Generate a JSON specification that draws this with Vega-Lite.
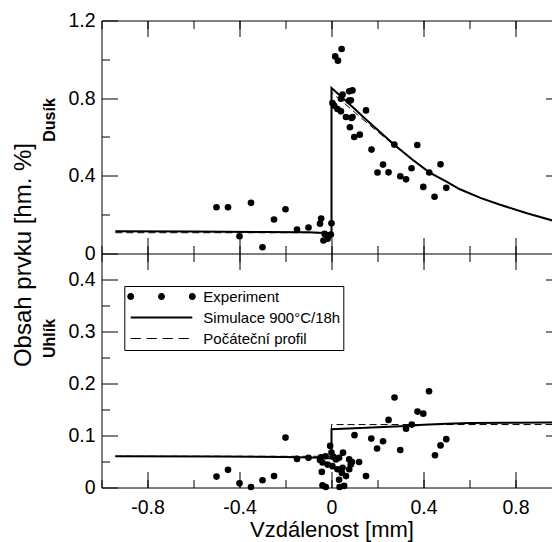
{
  "$schema": "https://vega.github.io/schema/vega-lite/v6.json",
  "width": 460,
  "height": 467,
  "autosize": {"type": "none"},
  "padding": {"left": 101.5, "top": 20.5, "right": 0, "bottom": 54},
  "config": {
    "font": "Liberation Sans",
    "view": {"stroke": null},
    "axis": {
      "grid": false,
      "domainColor": "black",
      "tickColor": "black",
      "labelColor": "black",
      "titleColor": "black",
      "labelFontSize": 19.5
    }
  },
  "datasets": {
    "N": [
      {"x": -0.50, "y": 0.238}, {"x": -0.45, "y": 0.238}, {"x": -0.40, "y": 0.089},
      {"x": -0.35, "y": 0.261}, {"x": -0.30, "y": 0.032}, {"x": -0.25, "y": 0.175},
      {"x": -0.20, "y": 0.228}, {"x": -0.15, "y": 0.123}, {"x": -0.10, "y": 0.134},
      {"x": -0.05, "y": 0.153}, {"x": -0.045, "y": 0.18}, {"x": -0.035, "y": 0.067},
      {"x": -0.03, "y": 0.101}, {"x": -0.017, "y": 0.076}, {"x": -0.01, "y": 0.093},
      {"x": -0.003, "y": 0.098}, {"x": 0.0, "y": 0.156}, {"x": 0.004, "y": 0.775},
      {"x": 0.012, "y": 0.761}, {"x": 0.016, "y": 1.015}, {"x": 0.026, "y": 0.744},
      {"x": 0.028, "y": 0.993}, {"x": 0.041, "y": 0.797}, {"x": 0.041, "y": 0.732},
      {"x": 0.044, "y": 1.053}, {"x": 0.048, "y": 0.818}, {"x": 0.063, "y": 0.703},
      {"x": 0.077, "y": 0.835}, {"x": 0.077, "y": 0.787}, {"x": 0.08, "y": 0.65},
      {"x": 0.084, "y": 0.789}, {"x": 0.087, "y": 0.698}, {"x": 0.091, "y": 0.84},
      {"x": 0.091, "y": 0.703}, {"x": 0.099, "y": 0.60}, {"x": 0.123, "y": 0.612},
      {"x": 0.15, "y": 0.737}, {"x": 0.174, "y": 0.535}, {"x": 0.20, "y": 0.417},
      {"x": 0.224, "y": 0.458}, {"x": 0.248, "y": 0.418}, {"x": 0.273, "y": 0.561},
      {"x": 0.299, "y": 0.398}, {"x": 0.324, "y": 0.382}, {"x": 0.348, "y": 0.439},
      {"x": 0.373, "y": 0.559}, {"x": 0.399, "y": 0.343}, {"x": 0.425, "y": 0.417},
      {"x": 0.448, "y": 0.292}, {"x": 0.474, "y": 0.459}, {"x": 0.499, "y": 0.338}
    ],
    "Nsim": [
      {"i": 1, "x": -0.94, "y": 0.115}, {"i": 2, "x": -0.6, "y": 0.113},
      {"i": 3, "x": -0.3, "y": 0.111}, {"i": 4, "x": -0.1, "y": 0.109},
      {"i": 5, "x": -0.03, "y": 0.106}, {"i": 6, "x": 0.0, "y": 0.102},
      {"i": 7, "x": 0.0, "y": 0.852}, {"i": 8, "x": 0.05, "y": 0.80},
      {"i": 9, "x": 0.1, "y": 0.745}, {"i": 10, "x": 0.15, "y": 0.69},
      {"i": 11, "x": 0.2, "y": 0.637}, {"i": 12, "x": 0.273, "y": 0.56},
      {"i": 13, "x": 0.35, "y": 0.485}, {"i": 14, "x": 0.425, "y": 0.418},
      {"i": 15, "x": 0.5, "y": 0.37}, {"i": 16, "x": 0.556, "y": 0.332},
      {"i": 17, "x": 0.65, "y": 0.285}, {"i": 18, "x": 0.73, "y": 0.252},
      {"i": 19, "x": 0.85, "y": 0.207}, {"i": 20, "x": 0.96, "y": 0.17}
    ],
    "Ninit": [
      {"i": 1, "x": -0.94, "y": 0.107}, {"i": 2, "x": 0.0, "y": 0.107},
      {"i": 3, "x": 0.0, "y": 0.83}, {"i": 4, "x": 0.05, "y": 0.78},
      {"i": 5, "x": 0.1, "y": 0.728}, {"i": 6, "x": 0.15, "y": 0.677},
      {"i": 7, "x": 0.2, "y": 0.628}, {"i": 8, "x": 0.273, "y": 0.556},
      {"i": 9, "x": 0.35, "y": 0.485}, {"i": 10, "x": 0.425, "y": 0.418},
      {"i": 11, "x": 0.5, "y": 0.37}, {"i": 12, "x": 0.556, "y": 0.332},
      {"i": 13, "x": 0.65, "y": 0.285}, {"i": 14, "x": 0.73, "y": 0.252},
      {"i": 15, "x": 0.85, "y": 0.207}, {"i": 16, "x": 0.96, "y": 0.17}
    ],
    "C": [
      {"x": -0.50, "y": 0.021}, {"x": -0.45, "y": 0.034}, {"x": -0.40, "y": 0.008},
      {"x": -0.35, "y": 0.001}, {"x": -0.30, "y": 0.014}, {"x": -0.25, "y": 0.022},
      {"x": -0.20, "y": 0.096}, {"x": -0.15, "y": 0.055}, {"x": -0.10, "y": 0.057},
      {"x": -0.05, "y": 0.053}, {"x": -0.046, "y": 0.058}, {"x": -0.042, "y": 0.030},
      {"x": -0.039, "y": 0.048}, {"x": -0.039, "y": 0.004}, {"x": -0.026, "y": 0.060},
      {"x": -0.025, "y": 0.001}, {"x": -0.017, "y": 0.044}, {"x": -0.006, "y": 0.080},
      {"x": 0.0, "y": 0.067}, {"x": 0.004, "y": 0.041}, {"x": 0.009, "y": 0.059},
      {"x": 0.019, "y": 0.054}, {"x": 0.026, "y": 0.035}, {"x": 0.033, "y": 0.057},
      {"x": 0.033, "y": 0.015}, {"x": 0.035, "y": 0.001}, {"x": 0.045, "y": 0.028},
      {"x": 0.048, "y": 0.038}, {"x": 0.05, "y": 0.067}, {"x": 0.055, "y": 0.003},
      {"x": 0.063, "y": 0.022}, {"x": 0.077, "y": 0.035}, {"x": 0.077, "y": 0.054},
      {"x": 0.084, "y": 0.044}, {"x": 0.089, "y": 0.049}, {"x": 0.1, "y": 0.1007},
      {"x": 0.12, "y": 0.049}, {"x": 0.15, "y": 0.022}, {"x": 0.173, "y": 0.094},
      {"x": 0.198, "y": 0.075}, {"x": 0.224, "y": 0.089}, {"x": 0.248, "y": 0.130},
      {"x": 0.274, "y": 0.173}, {"x": 0.299, "y": 0.072}, {"x": 0.324, "y": 0.113},
      {"x": 0.349, "y": 0.121}, {"x": 0.374, "y": 0.146}, {"x": 0.399, "y": 0.142},
      {"x": 0.424, "y": 0.185}, {"x": 0.45, "y": 0.062}, {"x": 0.474, "y": 0.081},
      {"x": 0.499, "y": 0.093}
    ],
    "Csim": [
      {"i": 1, "x": -0.94, "y": 0.060}, {"i": 2, "x": -0.5, "y": 0.0595},
      {"i": 3, "x": -0.2, "y": 0.0585}, {"i": 4, "x": -0.05, "y": 0.057},
      {"i": 5, "x": 0.0, "y": 0.056}, {"i": 6, "x": 0.0, "y": 0.112},
      {"i": 7, "x": 0.1, "y": 0.114}, {"i": 8, "x": 0.2, "y": 0.116},
      {"i": 9, "x": 0.3, "y": 0.118}, {"i": 10, "x": 0.4, "y": 0.1205},
      {"i": 11, "x": 0.5, "y": 0.1225}, {"i": 12, "x": 0.6, "y": 0.1238},
      {"i": 13, "x": 0.8, "y": 0.1245}, {"i": 14, "x": 0.96, "y": 0.125}
    ],
    "Cinit": [
      {"i": 1, "x": -0.94, "y": 0.060}, {"i": 2, "x": 0.0, "y": 0.060},
      {"i": 3, "x": 0.0, "y": 0.121}, {"i": 4, "x": 0.96, "y": 0.121}
    ]
  },
  "resolve": {"scale": {"y": "independent"}, "axis": {"x": "independent", "y": "independent"}},
  "layer": [
    {
      "data": {"name": "N"},
      "mark": {"type": "point", "filled": true, "size": 44, "opacity": 1},
      "encoding": {
        "x": {"field": "x", "type": "quantitative",
          "scale": {"domain": [-1, 1], "nice": false, "zero": false},
          "axis": {"orient": "bottom", "offset": -467, "values": [-0.8, -0.4, 0, 0.4, 0.8],
            "tickSize": 16, "labels": false, "domain": true, "title": null}},
        "y": {"field": "y", "type": "quantitative",
          "scale": {"domain": [-1.2052, 1.2], "nice": false, "zero": false},
          "axis": {"orient": "left", "values": [0, 0.4, 0.8, 1.2], "ticks": false,
            "labelExpr": "'' + datum.value", "labelPadding": 6.5,
            "title": "Dusík", "titleFontWeight": "bold", "titleFontSize": 16,
            "titleAngle": -90, "titleAlign": "center", "titleBaseline": "middle",
            "titleX": -52.5, "titleY": 99}},
        "color": {"datum": "Experiment", "type": "nominal",
          "scale": {"domain": ["Experiment", "Simulace 900°C/18h", "Počáteční profil"], "range": ["black", "black", "black"]},
          "legend": {
            "orient": "none", "legendX": 22.8, "legendY": 265.5, "title": null,
            "padding": 3, "strokeColor": "black", "fillColor": "white",
            "labelFontSize": 15, "labelFont": "Liberation Sans", "labelColor": "black",
            "symbolSize": 49, "symbolStrokeWidth": 0, "symbolOffset": 26.7,
            "symbolFillColor": "black", "symbolStrokeColor": "transparent", "symbolOpacity": 1,
            "symbolType": {"expr": "datum.value === 'Experiment' ? 'M-7.8,0A1,1,0,1,1,-9.8,0A1,1,0,1,1,-7.8,0ZM1,0A1,1,0,1,1,-1,0A1,1,0,1,1,1,0ZM9.8,0A1,1,0,1,1,7.8,0A1,1,0,1,1,9.8,0Z' : datum.value === 'Počáteční profil' ? 'M-8.8,-0.16H-5.94V0.16H-8.8ZM-4.23,-0.16H-1.37V0.16H-4.23ZM0.34,-0.16H3.2V0.16H0.34ZM4.91,-0.16H7.77V0.16H4.91Z' : 'M-8.8,-0.29H8.8V0.29H-8.8Z'"},
            "labelOffset": 34.3, "rowPadding": 5, "labelLimit": 0
          }}
      }
    },
    {
      "data": {"name": "Nsim"},
      "mark": {"type": "line", "strokeWidth": 2},
      "encoding": {
        "x": {"field": "x", "type": "quantitative",
          "scale": {"domain": [-1, 1], "nice": false, "zero": false},
          "axis": {"orient": "bottom", "offset": -467, "tickCount": 10,
            "tickSize": 8, "labels": false, "domain": false, "title": null}},
        "y": {"field": "y", "type": "quantitative",
          "scale": {"domain": [-1.2052, 1.2], "nice": false, "zero": false},
          "axis": {"orient": "right", "offset": -460, "values": [0, 0.4, 0.8, 1.2],
            "tickSize": 16, "labels": false, "domain": false, "title": null}},
        "order": {"field": "i"},
        "color": {"datum": "Simulace 900°C/18h", "type": "nominal"}
      }
    },
    {
      "data": {"name": "Ninit"},
      "mark": {"type": "line", "strokeWidth": 1, "strokeDash": [7, 4]},
      "encoding": {
        "x": {"field": "x", "type": "quantitative",
          "scale": {"domain": [-1, 1], "nice": false, "zero": false},
          "axis": {"orient": "bottom", "offset": -250, "values": [-0.8, -0.4, 0, 0.4, 0.8],
            "tickSize": 32, "labels": false, "domain": false, "title": null}},
        "y": {"field": "y", "type": "quantitative",
          "scale": {"domain": [-1.2052, 1.2], "nice": false, "zero": false},
          "axis": {"orient": "right", "offset": -460, "values": [0.2, 0.6, 1.0],
            "tickSize": 8, "labels": false, "domain": false, "title": null}},
        "order": {"field": "i"},
        "color": {"datum": "Počáteční profil", "type": "nominal"}
      }
    },
    {
      "mark": {"type": "text", "text": "T25+N", "fontSize": 23, "align": "left", "baseline": "alphabetic", "color": "black"},
      "encoding": {
        "x": {"datum": -0.844, "type": "quantitative",
          "scale": {"domain": [-1, 1], "nice": false, "zero": false},
          "axis": {"orient": "bottom", "offset": -242, "tickCount": 10,
            "tickSize": 16, "labels": false, "domain": false, "title": null}},
        "y": {"datum": 0.926, "type": "quantitative",
          "scale": {"domain": [-1.2052, 1.2], "nice": false, "zero": false},
          "axis": {"orient": "left", "offset": -460, "values": [0.4, 0.8],
            "tickSize": 16, "labels": false, "domain": false,
            "title": "Obsah prvku [hm. %]", "titleFontSize": 24, "titleFontWeight": "normal",
            "titleAngle": -90, "titleAlign": "center", "titleBaseline": "middle",
            "titleX": -538, "titleY": 234}}
      }
    },
    {
      "mark": {"type": "text", "text": "P91+N", "fontSize": 23, "align": "left", "baseline": "alphabetic", "color": "black"},
      "encoding": {
        "x": {"datum": 0.563, "type": "quantitative",
          "scale": {"domain": [-1, 1], "nice": false, "zero": false},
          "axis": {"orient": "bottom", "offset": -234, "ticks": false,
            "labels": false, "domain": true, "title": null}},
        "y": {"datum": 0.797, "type": "quantitative",
          "scale": {"domain": [0, 0.898], "nice": false, "zero": false},
          "axis": {"orient": "left", "offset": -460, "values": [0.1, 0.2, 0.3, 0.4],
            "tickSize": 16, "labels": false, "domain": false, "title": null}}
      }
    },
    {
      "data": {"name": "C"},
      "mark": {"type": "point", "filled": true, "size": 44, "opacity": 1, "color": "black"},
      "encoding": {
        "x": {"field": "x", "type": "quantitative",
          "scale": {"domain": [-1, 1], "nice": false, "zero": false},
          "axis": {"orient": "bottom", "values": [-0.8, -0.4, 0, 0.4, 0.8], "ticks": false,
            "labelExpr": "'' + datum.value", "labelPadding": 11, "domain": true,
            "title": "Vzdálenost [mm]", "titleFontSize": 22, "titlePadding": 2, "titleFontWeight": "normal"}},
        "y": {"field": "y", "type": "quantitative",
          "scale": {"domain": [0, 0.898], "nice": false, "zero": false},
          "axis": {"orient": "left", "values": [0, 0.1, 0.2, 0.3, 0.4], "ticks": false,
            "labelExpr": "'' + datum.value", "labelPadding": 6.5, "domain": false,
            "title": "Uhlík", "titleFontWeight": "bold", "titleFontSize": 16,
            "titleAngle": -90, "titleAlign": "center", "titleBaseline": "middle",
            "titleX": -52.5, "titleY": 317.5}}
      }
    },
    {
      "data": {"name": "Csim"},
      "mark": {"type": "line", "strokeWidth": 2, "color": "black"},
      "encoding": {
        "x": {"field": "x", "type": "quantitative",
          "scale": {"domain": [-1, 1], "nice": false, "zero": false},
          "axis": {"orient": "top", "offset": -467, "values": [-0.8, -0.4, 0, 0.4, 0.8],
            "tickSize": 16, "labels": false, "domain": false, "title": null}},
        "y": {"field": "y", "type": "quantitative",
          "scale": {"domain": [0, 0.898], "nice": false, "zero": false},
          "axis": {"orient": "right", "offset": -460, "values": [0, 0.1, 0.2, 0.3, 0.4],
            "tickSize": 16, "labels": false, "domain": false, "title": null}},
        "order": {"field": "i"}
      }
    },
    {
      "data": {"name": "Cinit"},
      "mark": {"type": "line", "strokeWidth": 1, "strokeDash": [7, 4], "color": "black"},
      "encoding": {
        "x": {"field": "x", "type": "quantitative",
          "scale": {"domain": [-1, 1], "nice": false, "zero": false},
          "axis": {"orient": "top", "offset": -467, "tickCount": 10,
            "tickSize": 8, "labels": false, "domain": false, "title": null}},
        "y": {"field": "y", "type": "quantitative",
          "scale": {"domain": [0, 0.898], "nice": false, "zero": false},
          "axis": {"orient": "right", "offset": -460, "values": [0.05, 0.15, 0.25, 0.35],
            "tickSize": 8, "labels": false, "domain": false, "title": null}},
        "order": {"field": "i"}
      }
    }
  ]
}
